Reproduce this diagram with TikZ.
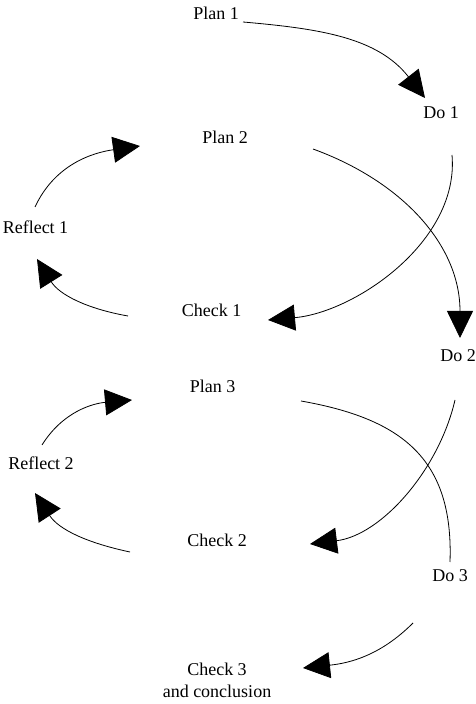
\documentclass[tikz,border=0pt]{standalone}
\usepackage{fontspec}
\setmainfont{Liberation Serif}
\usetikzlibrary{arrows.meta,positioning,calc}

\begin{document}
\begin{tikzpicture}[x=1pt, y=1pt,
    stagetext/.style={font=\fontsize{18}{22}\selectfont, inner sep=2pt, align=center},
    cycleline/.style={line width=0.8pt},
    cyclearrow/.style={cycleline, -{Triangle[length=27pt,width=26pt]}}]
    \useasboundingbox (0,0) rectangle (475,704);

    \node[stagetext] (plan1) at (216,691) {Plan 1};
    \node[stagetext] (do1) at (441,591) {Do 1};
    \node[stagetext] (plan2) at (225,567) {Plan 2};
    \node[stagetext] (reflect1) at (35.5,477) {Reflect 1};
    \node[stagetext] (check1) at (211.5,394) {Check 1};
    \node[stagetext] (do2) at (458,348) {Do 2};
    \node[stagetext] (plan3) at (212.5,318) {Plan 3};
    \node[stagetext] (reflect2) at (41,241) {Reflect 2};
    \node[stagetext] (check2) at (217,164) {Check 2};
    \node[stagetext] (do3) at (450,128) {Do 3};
    \node[stagetext] (check3) at (217,24) {Check 3\\and conclusion};

    % first cycle
    \draw[cyclearrow] ($(plan1)+(27,-9)$) to[out=-5,in=128] ($(do1)+(-16,15)$);
    \draw[cyclearrow] ($(do1)+(11,-42)$) to[out=-85,in=5,looseness=0.9] ($(check1)+(56.5,-10)$);
    \draw[cyclearrow] ($(check1)+(-83.5,-6)$) to[out=170,in=-58] ($(reflect1)+(1.5,-32)$);
    \draw[cyclearrow] ($(reflect1)+(-0.5,20)$) to[out=65,in=188] ($(plan2)+(-85,-9)$);

    % second cycle
    \draw[cyclearrow] ($(plan2)+(88,-12)$) to[out=-20,in=90] ($(do2)+(2,18)$);
    \draw[cyclearrow] ($(do2)+(-3,-44)$) to[out=-103,in=7,looseness=0.9] ($(check2)+(93,-4)$);
    \draw[cyclearrow] ($(check2)+(-87,-12)$) to[out=168,in=-57] ($(reflect2)+(-6,-30)$);
    \draw[cyclearrow] ($(reflect2)+(1,18)$) to[out=58,in=185] ($(plan3)+(-80.5,-14)$);

    % third cycle
    \draw[cycleline] ($(plan3)+(88.5,-15)$) to[out=-10,in=88,looseness=1.2] ($(do3)+(0,14)$);
    \draw[cyclearrow] ($(do3)+(-37,-47)$) to[out=-135,in=6] ($(check3)+(86,12)$);
\end{tikzpicture}
\end{document}
